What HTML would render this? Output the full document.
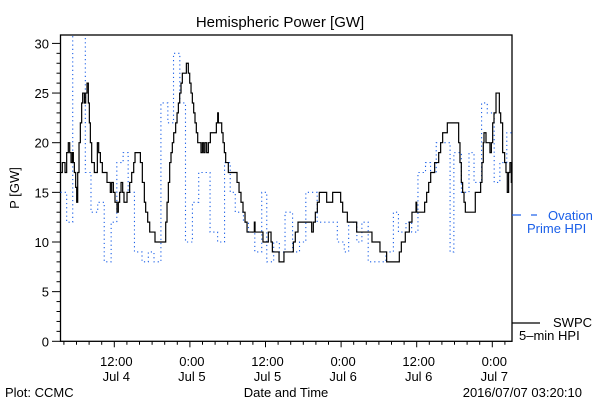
<!DOCTYPE html>
<html><head><meta charset="utf-8"><style>
html,body{margin:0;padding:0;background:#fff;}
svg{display:block;}
text{font-family:"Liberation Sans",sans-serif;font-size:13px;fill:#000;}
</style></head><body>
<svg id="chart" width="600" height="400" viewBox="0 0 600 400">
<rect x="0" y="0" width="600" height="400" fill="#fff"/>
<text x="280" y="27" text-anchor="middle" font-size="15" style="font-size:15px">Hemispheric Power [GW]</text>
<text transform="translate(19,188) rotate(-90)" text-anchor="middle">P [GW]</text>
<text x="5" y="397">Plot: CCMC</text>
<text x="286" y="397" text-anchor="middle">Date and Time</text>
<text x="582" y="397" text-anchor="end">2016/07/07 03:20:10</text>
<g id="axes"></g>
<g id="series"></g>
<g>
<line x1="512" y1="215" x2="521" y2="215" stroke="#1a5fe8" stroke-width="1.2"/>
<line x1="531" y1="215" x2="537" y2="215" stroke="#1a5fe8" stroke-width="1.2"/>
<text x="548" y="220" style="fill:#1a5fe8">Ovation</text>
<text x="527" y="233" style="fill:#1a5fe8">Prime HPI</text>
<line x1="512" y1="323" x2="540" y2="323" stroke="#000" stroke-width="1.2"/>
<text x="553" y="327">SWPC</text>
<text x="519" y="340">5–min HPI</text>
</g>
</svg>
<script>
const blueTimes=[3.46,4.44,5.4,7.4,8.3,9.37,10.4,11.5,12.4,13.4,14.2,15.2,16.4,17.4,18.3,19.4,20.5,21.4,22.4,23.3,24.4,25.4,27.2,28.4,29.5,30.4,31.2,32.5,33.3,34.3,35.4,36.2,37.3,38.2,39.1,40.3,41.4,42.4,44.2,47.4,48.5,49.2,50.5,51.3,52.3,55.1,56.3,57.1,58.3,59.2,60.2,61.4,62.2,63.1,65.3,65.9,67.1,68.3,69.1,70.3,71.2,72.3,73.2,74.3];
const blueValues=[15,12,31,17,13,14,8,12,18,19,15,9,8,9,8,24,22,29,24,10,14,17,11,10,18,15,13,12,11,9,15,8,10,9,13,9,10,15,12,10,9,12,10,12,8,9,13,11,12,11,17,18,17,20,9,19,15,19,16,24,23,16,18,21];
const blackTimes=[3.44,3.75,4.18,4.44,4.7,4.92,5.13,5.34,5.5,5.66,5.87,6.03,6.19,6.4,6.61,6.82,6.98,7.25,7.46,7.67,7.88,8.04,8.2,8.41,8.83,9.31,9.52,9.79,10.1,10.84,11.37,11.58,11.85,12.11,12.43,12.64,12.85,13.07,13.33,13.54,14.02,14.44,14.76,15.08,15.29,16.14,16.45,16.77,16.98,17.3,17.62,18.46,20.16,20.37,20.58,20.79,21.0,21.21,21.43,21.74,21.96,22.17,22.38,22.59,22.8,23.44,23.75,23.97,24.18,24.39,24.6,24.81,25.02,25.24,25.76,25.98,26.19,26.4,26.66,26.93,27.25,28.2,28.41,28.52,29.05,29.26,29.47,29.68,30.1,31.48,31.8,32.11,32.43,32.75,33.07,34.23,34.34,35.6,36.45,36.88,37.09,38.15,38.93,40.42,40.73,41.16,43.33,43.59,43.91,44.23,44.54,45.71,46.66,47.93,48.25,48.99,50.47,52.9,54.17,55.23,57.24,57.56,58.19,58.83,59.25,59.89,60.0,61.26,61.58,61.9,62.22,62.85,63.49,63.8,64.12,64.86,66.66,66.87,67.08,67.29,67.51,67.72,69.3,70.15,70.36,70.57,70.68,71.0,71.63,71.85,72.06,72.27,72.59,73.12,73.33,73.64,73.96,74.17,74.38,74.59,74.8,75.02];
const blackValues=[17,18,17,19,20,19,18,19,18,17,15.5,14,17,20,22,24,25,24,25,26,24,22,20,18,17,20,19,18,17,16,15,16,15,14,13,14,15,16,15,14,15,16,17,18,19,18,16,14,13,12,11,10,12,14,16,18,19,20,21,22,23,24,25,26,27,28,27,26,25,24,23,22,21,20,19,20,19,20,19,20,21,22,23,22,21,20,19,18,17,16,15,14,13,12,11,12,11,10,11,10,9,8,9,10,11,12,11,12,13,14,15,14,15,14,13,12,11,10,9,8,9,10,11,12,13,14,13,14,15,16,17,18,19,20,21,22,20,18,16,15,14,13,15,16,18,20,21,20,19,20,22,23,25,23,22,19,18,17,15,17,18,16];
const yTickLabels=[0,5,10,15,20,25,30];
const xTickHours=[12,24,36,48,60,72];
const xTickLine1=["12:00","0:00","12:00","0:00","12:00","0:00"];
const xTickLine2=["Jul 4","Jul 5","Jul 5","Jul 6","Jul 6","Jul 7"];
const tStart=3.46, tEnd=75.1, yMax=30;
const L=60.5,R=512,T=35,B=341.3;
function xs(h){return 38.7+6.3*h;}
function ys(v){return B-9.93*v;}
const NS="http://www.w3.org/2000/svg";
const axes=document.getElementById('axes');
const series=document.getElementById('series');
function mk(tag,attrs,parent){const e=document.createElementNS(NS,tag);for(const k in attrs)e.setAttribute(k,attrs[k]);parent.appendChild(e);return e;}
const frame=mk('rect',{x:L,y:T,width:R-L,height:B-T,fill:'none',stroke:'#000','stroke-width':1.3},axes);


for(let v=0;v<=yMax;v++){
  const major=v%5===0;
  const t=mk('line',{x1:L-(major?8.5:4),x2:L,y1:ys(v),y2:ys(v),stroke:'#000','stroke-width':1},axes);
  
  
}
yTickLabels.forEach(v=>{
  const t=mk('text',{x:49,y:ys(v)+5,'text-anchor':'end'},axes);
  t.textContent=v;
  
  
});
for(let h=4;h<=74;h+=2){
  const x=xs(h); if(x<L||x>R) continue;
  const major=h%12===0;
  const t=mk('line',{x1:x,x2:x,y1:B,y2:B+(major?6:3.5),stroke:'#000','stroke-width':1},axes);
  
  
}
xTickHours.forEach((h,i)=>{
  const a=mk('text',{x:xs(h)+2,y:366,'text-anchor':'middle'},axes);
  a.textContent=xTickLine1[i];
  
  
  const b=mk('text',{x:xs(h)+2,y:381,'text-anchor':'middle'},axes);
  b.textContent=xTickLine2[i];
  
  
});
const defs=mk('defs',{},series);
const cp=mk('clipPath',{id:'clip'},defs);
mk('rect',{x:L,y:T,width:R-L,height:B-T},cp);
function stepPath(ts,vs,end){
  let d='';
  for(let i=0;i<ts.length;i++){
    const x=xs(ts[i]),y=ys(vs[i]);
    if(i===0) d+='M'+x+' '+y; else d+=' H'+x+' V'+y;
  }
  d+=' H'+xs(end);
  return d;
}
const blue=mk('path',{d:stepPath(blueTimes,blueValues,tEnd),fill:'none',stroke:'#1a5fe8','stroke-width':1.1,'stroke-dasharray':'1.2 3','clip-path':'url(#clip)'},series);


const black=mk('path',{d:stepPath(blackTimes,blackValues,blackTimes[blackTimes.length-1]+0.05),fill:'none',stroke:'#000','stroke-width':1.2,'clip-path':'url(#clip)'},series);


</script>
</body></html>
